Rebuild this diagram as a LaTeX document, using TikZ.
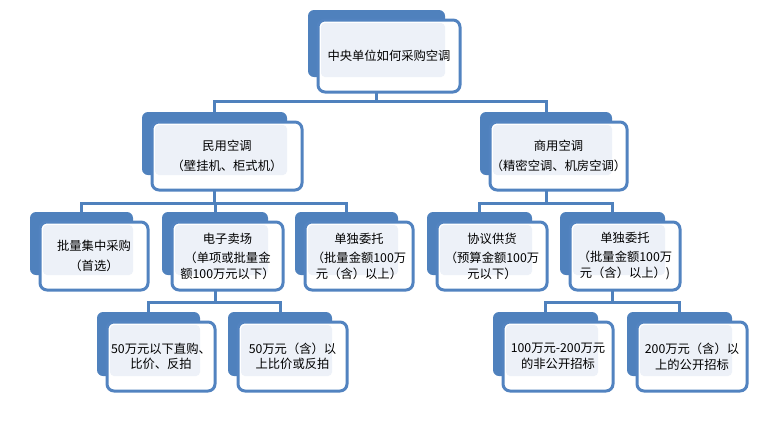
\documentclass[tikz,border=0pt]{standalone}
\usepackage{fontspec}
\setmainfont{Noto Sans CJK SC}
\usetikzlibrary{backgrounds}

\definecolor{backblue}{HTML}{4F81BD}
\definecolor{frameblue}{HTML}{5283C0}
\definecolor{paleblue}{HTML}{EDF1F8}

\tikzset{
  backpart/.style={fill=backblue, rounded corners=6pt},
  framepart/.style={draw=frameblue, line width=3pt, fill=white, rounded corners=7pt},
  palepart/.style={fill=paleblue, rounded corners=4pt},
  boxtext/.style={align=center, inner sep=0pt, font=\fontsize{12.3}{15.5}\selectfont},
  link/.style={draw=backblue, line width=3pt}
}

% #1 name, #2-#5 back box corners, #6 text
\newcommand{\twinbox}[6]{%
  \fill[backpart] (#2,#3) rectangle (#4,#5);
  \draw[framepart] (#2+10,#3+10) rectangle (#4+15,#5+15);
  \fill[palepart] (#2+13,#3+13) rectangle (#4,#5);
  \node[boxtext] (#1) at ({(#2+#4+25)/2},{(#3+#5+25)/2}) {#6};
  \coordinate (#1-top) at ({(#2+#4)/2},#3);
  \coordinate (#1-bot) at ({(#2+#4)/2},#5);
}

\begin{document}
\begin{tikzpicture}[x=1pt,y=-1pt]

        \useasboundingbox (0,0) rectangle (768,424);

        % level 0 and 1
        \twinbox{root}{308}{10}{445}{77}{中央单位如何采购空调}
        \twinbox{home}{142}{112}{287}{175}{民用空调\\[5pt]（壁挂机、柜式机）}
        \twinbox{trade}{480}{112}{612}{175}{商用空调\\[5pt]（精密空调、机房空调）}

        % level 2
        \twinbox{bulk}{30}{212}{133}{275}{批量集中采购\\[4pt]（首选）}
        \twinbox{emall}{162}{212}{268}{275}{电子卖场\\[4pt]（单项或批量金\\额100万元以下）}
        \twinbox{entrustl}{295}{212}{398}{275}{单独委托\\[4pt]（批量金额100万\\元（含）以上）}
        \twinbox{contract}{427}{212}{532}{275}{协议供货\\[4pt]（预算金额100万\\元以下）}
        \twinbox{entrustr}{560}{212}{665}{275}{单独委托\\[4pt]（批量金额100万\\元（含）以上）)}

        % level 3
        \twinbox{direct}{97}{312}{200}{376}{50万元以下直购、\\比价、反拍}
        \twinbox{auction}{228}{312}{332}{376}{50万元（含）以\\上比价或反拍}
        \twinbox{closed}{493}{312}{598}{376}{100万元-200万元\\的非公开招标}
        \twinbox{open}{627}{312}{732}{376}{200万元（含）以\\上的公开招标}

        \coordinate (bus1) at (0,101);
        \coordinate (bus2) at (0,203);
        \coordinate (bus3) at (0,302);

        \begin{pgfonlayer}{background}
          \draw[link] (root-bot) -- (root-bot |- bus1) -| (home-top);
          \draw[link] (root-bot) -- (root-bot |- bus1) -| (trade-top);
          \draw[link] (home-bot) -- (home-bot |- bus2) -| (bulk-top);
          \draw[link] (home-bot) -- (home-bot |- bus2) -| (emall-top);
          \draw[link] (home-bot) -- (home-bot |- bus2) -| (entrustl-top);
          \draw[link] (trade-bot) -- (trade-bot |- bus2) -| (contract-top);
          \draw[link] (trade-bot) -- (trade-bot |- bus2) -| (entrustr-top);
          \draw[link] (emall-bot) -- (emall-bot |- bus3) -| (direct-top);
          \draw[link] (emall-bot) -- (emall-bot |- bus3) -| (auction-top);
          \draw[link] (entrustr-bot) -- (entrustr-bot |- bus3) -| (closed-top);
          \draw[link] (entrustr-bot) -- (entrustr-bot |- bus3) -| (open-top);
        \end{pgfonlayer}

      \end{tikzpicture}
\end{document}
